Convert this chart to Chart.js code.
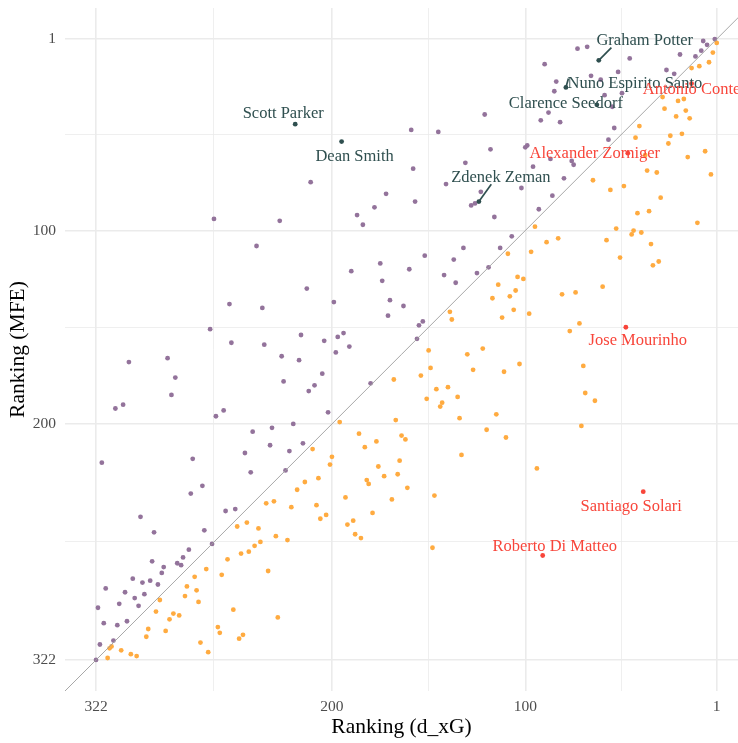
<!DOCTYPE html>
<html>
<head>
<meta charset="utf-8">
<script src="https://cdn.jsdelivr.net/npm/chart.js@4/dist/chart.umd.min.js"></script>
<style>
  html, body { margin: 0; padding: 0; background: #ffffff; }
  #wrap { width: 738px; height: 743px; }
</style>
</head>
<body>
<div id="wrap"><canvas id="chart" width="738" height="743"></canvas></div>
<script>
// Managers whose MFE ranking is better than their d_xG ranking (above the diagonal)
const aboveXG = [261,227,211,187,184,239,
  2,8,6,9,12,20,46,68,73,90,27,23,52,66,61,84,85,50,59,55,88,92,82,121,159,145,54,57,99,100,118,87,76,75,158,131,96,141,80,102,123,126,128,172,178,157,86,116,93,107,113,132,
  190,213,199,253,236,263,252,235,216,204,197,194,191,198,180,305,285,281,283,312,308,226,217,225,205,209,212,202,260,256,220,241,231,319,272,245,232,222,215,242,224,267,273,
  175,160,152,137,174,142,136,125,119,170,163,171,155,153,156,
  299,292,255,250,266,262,274,277,280,278,293,287,288,290,294,298,303,297,302,300,307,310,317,321,318,311,306,313,320,322];
const aboveMFE = [94,95,75,92,97,108,
  1,2,4,7,10,9,11,5,6,14,17,19,18,20,22,23,28,29,30,36,39,43,44,40,48,49,47,53,56,57,58,63,64,66,68,65,67,76,73,78,80,86,87,81,88,85,82,93,89,103,109,109,
  121,130,137,138,140,151,158,159,154,157,155,153,160,163,179,168,166,176,185,192,190,165,167,178,174,180,183,194,196,193,200,204,202,220,218,215,211,214,210,225,224,232,236,
  117,120,113,115,126,123,127,122,119,136,139,144,149,147,156,
  248,256,245,244,255,262,265,269,272,273,271,274,277,283,281,282,280,288,290,294,287,293,285,295,303,304,302,312,314,322];

// Managers whose MFE ranking is worse than their d_xG ranking (below the diagonal)
const belowXG = [1,3,5,10,14,29,21,18,28,22,17,15,41,43,25,19,26,7,16,38,37,32,4,65,56,49,30,42,36,11,95,53,44,40,45,83,89,58,35,
  196,210,200,201,207,214,218,193,186,183,182,181,
  109,97,51,34,31,104,101,114,105,108,117,106,112,98,81,74,60,72,77,139,138,150,149,130,122,127,111,103,70,69,64,168,154,146,140,151,143,144,135,134,115,167,71,120,110,164,162,177,133,165,176,166,173,94,161,147,169,
  234,230,221,208,206,203,192,189,188,185,249,244,238,229,223,237,240,243,247,254,265,257,233,271,275,270,276,269,289,291,282,279,284,286,251,228,259,258,248,246,268,264,295,296,314,315,309,304,301,316,
  179,148];
const belowMFE = [3,8,13,15,16,31,33,32,37,41,38,42,46,52,51,50,55,59,62,61,69,70,71,74,79,77,83,91,90,96,98,99,100,101,102,104,106,105,107,
  199,213,217,221,228,230,234,238,205,212,229,231,
  112,111,114,118,116,124,125,128,131,134,135,141,145,143,133,132,129,148,152,142,146,162,171,164,161,172,173,169,170,184,188,177,175,182,181,187,189,191,186,197,195,198,201,203,207,206,208,209,216,219,222,226,227,223,233,237,239,
  241,240,243,242,249,247,252,250,257,259,253,251,254,258,260,261,263,266,267,270,275,278,276,279,284,286,289,292,291,297,298,299,301,307,296,300,305,308,311,309,313,318,306,310,315,316,317,319,320,321,
  246,264];

// Highlighted managers
const namedManagers = ['Graham Potter','Nuno Espirito Santo','Clarence Seedorf','Scott Parker','Dean Smith','Zdenek Zeman',
  'Antonio Conte','Alexander Zorniger','Jose Mourinho','Santiago Solari','Roberto Di Matteo'];
const namedXG  = [62,79,63,219,195,124,14,47,48,39,91];
const namedMFE = [12,26,35,45,54,85,24,60,150,235,268];

// Axis breaks
const majorBreaks = [322,200,100,1];
const minorBreaks = [261,150,50.5];

// Label placement (pixel offsets of text baseline centre and leader end from the point)
const labelDx = [46,69,-31,-12,13,22,0,-33,12,-12,12];
const labelDy = [-15,1,3.5,-6,19,-20,10,5,18,19,-5];
const leaderDx = [12.6,2.5,null,null,null,12.4,null,null,null,null,null];
const leaderDy = [-12.6,-9,null,null,null,-17.2,null,null,null,null,null];

const PURPLE = '#93739B';
const ORANGE = '#FFAB40';
const SLATE = '#2F4F4F';
const RED = '#F8453A';
const SERIF = '"Liberation Serif", "Times New Roman", serif';

const toPoints = (xs, ys) => xs.map((v, i) => ({x: v, y: ys[i]}));
const overIdx = namedXG.map((v, i) => i).filter(i => namedMFE[i] <= namedXG[i]);
const underIdx = namedXG.map((v, i) => i).filter(i => namedMFE[i] > namedXG[i]);

const labelPlugin = {
  id: 'managerLabels',
  afterDatasetsDraw(chart) {
    const {ctx, scales} = chart;
    ctx.save();
    namedManagers.forEach((name, i) => {
      const px = scales.x.getPixelForValue(namedXG[i]);
      const py = scales.y.getPixelForValue(namedMFE[i]);
      const col = namedMFE[i] <= namedXG[i] ? SLATE : RED;
      if (leaderDx[i] !== null) {
        ctx.strokeStyle = col;
        ctx.lineWidth = 1.7;
        ctx.beginPath();
        ctx.moveTo(px, py);
        ctx.lineTo(px + leaderDx[i], py + leaderDy[i]);
        ctx.stroke();
      }
      ctx.fillStyle = col;
      ctx.font = '16.5px ' + SERIF;
      ctx.textAlign = 'center';
      ctx.textBaseline = 'alphabetic';
      ctx.fillText(name, px + labelDx[i], py + labelDy[i]);
    });
    ctx.restore();
  }
};

const gridOpts = {
  color: '#EBEBEB',
  lineWidth: c => majorBreaks.includes(c.tick && c.tick.value) ? 1.6 : 0.8,
  drawTicks: false
};
const setBreaks = scale => {
  scale.ticks = majorBreaks.concat(minorBreaks).sort((a, b) => a - b).map(v => ({value: v}));
};
const tickLabel = v => majorBreaks.includes(v) ? String(v) : '';

new Chart(document.getElementById('chart'), {
  type: 'scatter',
  data: {
    datasets: [
      {
        type: 'line',
        data: [{x: -30, y: -30}, {x: 350, y: 350}],
        borderColor: '#9E9E9E',
        borderWidth: 0.9,
        pointRadius: 0,
        order: 0
      },
      {
        data: toPoints(overIdx.map(i => namedXG[i]), overIdx.map(i => namedMFE[i])),
        backgroundColor: SLATE,
        pointRadius: 2.4,
        borderWidth: 0,
        order: 1
      },
      {
        data: toPoints(underIdx.map(i => namedXG[i]), underIdx.map(i => namedMFE[i])),
        backgroundColor: RED,
        pointRadius: 2.4,
        borderWidth: 0,
        order: 1
      },
      {
        data: toPoints(aboveXG, aboveMFE),
        backgroundColor: PURPLE,
        pointRadius: 2.4,
        borderWidth: 0,
        order: 2
      },
      {
        data: toPoints(belowXG, belowMFE),
        backgroundColor: ORANGE,
        pointRadius: 2.4,
        borderWidth: 0,
        order: 3
      }
    ]
  },
  options: {
    responsive: false,
    animation: false,
    devicePixelRatio: 1,
    events: [],
    layout: {autoPadding: false, padding: {top: 8, right: 0, left: 0, bottom: 0}},
    plugins: {legend: {display: false}, tooltip: {enabled: false}},
    scales: {
      x: {
        type: 'linear',
        reverse: true,
        min: -10,
        max: 338.05,
        afterBuildTicks: setBreaks,
        afterFit: s => { s.height = 52; s.paddingLeft = 0; s.paddingRight = 0; },
        grid: gridOpts,
        border: {display: false},
        ticks: {
          callback: tickLabel,
          autoSkip: false,
          maxRotation: 0,
          padding: 7,
          color: '#4D4D4D',
          font: {family: SERIF, size: 15.5}
        },
        title: {
          display: true,
          text: 'Ranking (d_xG)',
          color: '#000000',
          font: {family: SERIF, size: 21.5},
          padding: {top: 0, bottom: 3}
        }
      },
      y: {
        type: 'linear',
        reverse: true,
        min: -15.05,
        max: 338.05,
        afterBuildTicks: setBreaks,
        afterFit: s => { s.width = 65; s.paddingTop = 0; s.paddingBottom = 0; },
        grid: gridOpts,
        border: {display: false},
        ticks: {
          callback: tickLabel,
          autoSkip: false,
          padding: 9,
          color: '#4D4D4D',
          font: {family: SERIF, size: 15.5}
        },
        title: {
          display: true,
          text: 'Ranking (MFE)',
          color: '#000000',
          font: {family: SERIF, size: 21.5},
          padding: {top: 5, bottom: 0}
        }
      }
    }
  },
  plugins: [labelPlugin]
});
</script>
</body>
</html>
